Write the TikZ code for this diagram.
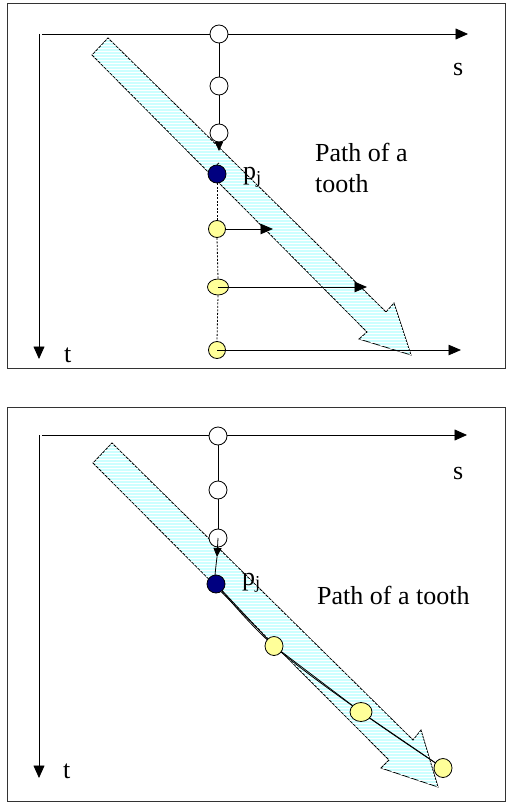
\documentclass[tikz,border=0pt]{standalone}
\usepackage{fontspec}
\setmainfont{Liberation Serif}
\usetikzlibrary{arrows.meta,patterns,shapes.geometric}
\definecolor{toothc}{HTML}{CCFFFF}
\definecolor{navyc}{HTML}{000080}
\definecolor{yelc}{HTML}{FFFF99}
\tikzset{
  frame/.style={draw=black!80, line width=0.9pt},
  axis/.style={line width=0.8pt, -{Triangle[length=12.5pt,width=11pt]}},
  harrow/.style={line width=0.8pt, -{Triangle[length=12.5pt,width=10.5pt]}},
  darrow/.style={line width=0.8pt, -{Triangle[length=9pt,width=8pt]}},
  bigarrow/.style={draw=black, line width=0.8pt, fill=toothc,
    postaction={pattern=horizontal lines, pattern color=white}},
  wdot/.style={circle, draw, fill=white, minimum size=18pt, inner sep=0pt, line width=0.8pt},
  ddot/.style={circle, draw, fill=navyc, minimum size=18pt, inner sep=0pt, line width=0.8pt},
  ydot/.style={ellipse, draw, fill=yelc, inner sep=0pt, line width=0.8pt},
  lbl/.style={font=\fontsize{26}{31}\selectfont, inner sep=0pt, anchor=base west},
  thin/.style={line width=0.8pt},
  dashline/.style={line width=0.8pt, dash pattern=on 2pt off 1.5pt}
}
\begin{document}
\begin{tikzpicture}[x=1pt,y=-1pt]
\useasboundingbox (0,0) rectangle (509,802);
% ================= top panel =================
\draw[frame] (7,3) rectangle (505,368);
\coordinate (O1) at (39,34);
\coordinate (S1s) at (42,34);
\coordinate (S1) at (468,34);
\coordinate (T1) at (39,359);
\draw[axis] (S1s) -- (S1);
\draw[axis] (O1) -- (T1);
\node[lbl] (s1) at (453,76) {s};
\node[lbl] (t1) at (64,362) {t};
% big arrow
\draw[bigarrow] (108,38) -- (386,312) -- (394,303) -- (411,355) -- (359,339) -- (367,332) -- (92,55) -- cycle;
% nodes
\node[wdot] (wa1) at (219,34) {};
\node[wdot] (wb1) at (219,86) {};
\node[wdot] (wc1) at (219,133) {};
\node[ddot] (d1) at (217,174) {};
\node[ydot, minimum width=17pt, minimum height=17pt] (ya1) at (217,229) {};
\node[ydot, minimum width=21pt, minimum height=16pt] (yb1) at (218,287) {};
\node[ydot, minimum width=17pt, minimum height=17pt] (yc1) at (217,350) {};
% connectors
\draw[thin] (wa1) -- (wb1) -- (wc1);
\coordinate (dt1) at (219,151);
\draw[darrow] (wc1.south) -- (dt1);
\coordinate (k1) at (219,163);
\draw[thin] (k1) -- (d1.north);
\draw[dashline] (d1.south) -- (ya1.north);
\draw[dashline] (ya1.south) -- (yb1.north);
\draw[dashline] (yb1.south) -- (yc1.north);
\coordinate (ea1) at (273,229);
\coordinate (eb1) at (367,287);
\coordinate (ec1) at (461,350);
\draw[harrow] (ya1) -- (ea1);
\draw[harrow] (yb1.center) -- (eb1);
\draw[harrow] (yc1.center) -- (ec1);
\node[lbl] (p1) at (243,180) {p\textsubscript{j}};
\node[lbl, align=left] (path1) at (315,193) {Path of a\\tooth};
% ================= bottom panel =================
\draw[frame] (7,407) rectangle (505,801);
\coordinate (O2) at (39,435);
\coordinate (S2s) at (42,435);
\coordinate (S2) at (467,435);
\coordinate (T2) at (39,778);
\draw[axis] (S2s) -- (S2);
\draw[axis] (O2) -- (T2);
\node[lbl] (s2) at (453,479) {s};
\node[lbl] (t2) at (63,778) {t};
\draw[bigarrow] (112,443) -- (413,740) -- (421,730) -- (438,787) -- (381,768) -- (389,760) -- (93,463) -- cycle;
\coordinate (dt2) at (217,557);
\coordinate (k2) at (215,576);
\coordinate (dc2) at (216,584);
\coordinate (ya2c) at (274,646);
\coordinate (yb2c) at (361,712);
\coordinate (yc2c) at (443,768);
\coordinate (wa2c) at (218,436);
\coordinate (wc2c) at (218,538);
\draw[thin] (wa2c) -- (wc2c);
\draw[thin] plot[smooth, tension=0.6] coordinates {(dt2) (k2) (dc2) (ya2c) (yb2c) (yc2c)};
\draw[thin] (dc2) -- (ya2c) -- (yb2c) -- (yc2c);
\node[wdot] (wa2) at (wa2c) {};
\node[wdot] (wb2) at (218,490) {};
\node[wdot] (wc2) at (wc2c) {};
\draw[darrow] (wc2.center) -- (dt2);
\node[ddot] (d2) at (dc2) {};
\node[ydot, minimum width=18pt, minimum height=19pt] (ya2) at (ya2c) {};
\node[ydot, minimum width=22pt, minimum height=19pt] (yb2) at (yb2c) {};
\node[ydot, minimum width=18pt, minimum height=19pt] (yc2) at (yc2c) {};
\node[lbl] (p2) at (242,585) {p\textsubscript{j}};
\node[lbl] (path2) at (317,604) {Path of a tooth};
\end{tikzpicture}
\end{document}
